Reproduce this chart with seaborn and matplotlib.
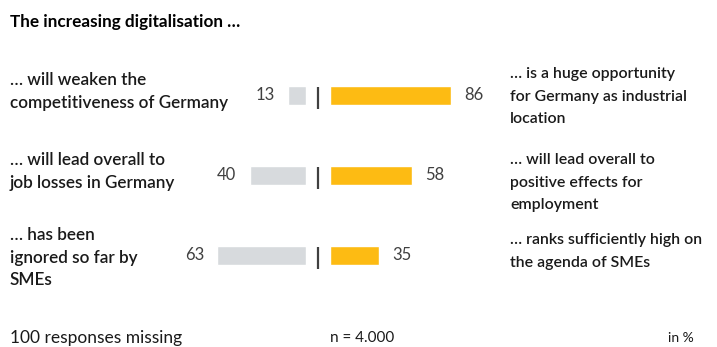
import matplotlib
matplotlib.use("Agg")
import matplotlib.pyplot as plt
import seaborn as sns
import pandas as pd

# Survey statements and shares (in %)
left_statements = [
    "… will weaken the\ncompetitiveness of Germany",
    "… will lead overall to\njob losses in Germany",
    "… has been\nignored so far by\nSMEs",
]
right_statements = [
    "… is a huge opportunity\nfor Germany as industrial\nlocation",
    "… will lead overall to\npositive effects for\nemployment",
    "… ranks sufficiently high on\nthe agenda of SMEs",
]
left_values = [13, 40, 63]
right_values = [86, 58, 35]
title = "The increasing digitalisation …"
footer_left = "100 responses missing"
footer_mid = "n = 4.000"
footer_right = "in %"

GREY = "#D7DADD"
YELLOW = "#FDBB13"
DARK = "#404040"

sns.set_theme(style="white")
plt.rcParams["font.family"] = ["Lato", "DejaVu Sans"]

W, H = 717, 347
fig = plt.figure(figsize=(W / 100, H / 100), dpi=100)

df = pd.DataFrame({
    "row": ["r1", "r2", "r3"],
    "left": left_values,
    "right": right_values,
})

px = 1.41  # pixels per percentage point
ax_w = 100 * px
top, bottom = 55, 295


def fig_rect(x0, width):
    return [x0 / W, (H - bottom) / H, width / W, (bottom - top) / H]


bar_h = 19 / 80

# Left (grey) bars growing leftwards from the centre divider
axl = fig.add_axes(fig_rect(306 - ax_w, ax_w))
sns.barplot(data=df, x="left", y="row", orient="h", color=GREY,
            width=bar_h, saturation=1, ax=axl)
axl.set_xlim(100, 0)

# Right (yellow) bars growing rightwards
axr = fig.add_axes(fig_rect(330, ax_w))
sns.barplot(data=df, x="right", y="row", orient="h", color=YELLOW,
            width=bar_h, saturation=1, ax=axr)
axr.set_xlim(0, 100)

for ax in (axl, axr):
    ax.set_axis_off()
    ax.set_ylim(2.5, -0.5)

for i, (lv, rv) in enumerate(zip(left_values, right_values)):
    axl.annotate(str(lv), (lv, i), xytext=(-9.5, 0), textcoords="offset points",
                 ha="right", va="center", fontsize=12, color=DARK)
    axr.annotate(str(rv), (rv, i), xytext=(9.5, 0), textcoords="offset points",
                 ha="left", va="center", fontsize=12, color=DARK)

# Overlay in pixel coordinates for texts and divider marks
ov = fig.add_axes([0, 0, 1, 1])
ov.set_xlim(0, W)
ov.set_ylim(H, 0)
ov.set_axis_off()
ov.patch.set_alpha(0)

row_centers = [95, 175, 255]
for yc in row_centers:
    ov.plot([318, 318], [yc - 8, yc + 14], color=DARK, lw=1.6,
            solid_capstyle="butt")

line_h = 22.5
left_tops = [80, 160, 235]
right_tops = [74, 160, 240]
for tops, texts, x, fs in ((left_tops, left_statements, 10, 12.3),
                           (right_tops, right_statements, 510, 11.4)):
    for y0, txt in zip(tops, texts):
        for k, line in enumerate(txt.split("\n")):
            ov.text(x, y0 + k * line_h, line, ha="left", va="center",
                    fontsize=fs, color="#1a1a1a", fontweight="semibold")

ov.text(10, 22, title, ha="left", va="center", fontsize=12.3,
        fontweight="bold", color="#000000")
ov.text(10, 338, footer_left, ha="left", va="center", fontsize=12.5,
        color="#1a1a1a")
ov.text(330, 338, footer_mid, ha="left", va="center", fontsize=11,
        color="#1a1a1a")
ov.text(694, 338, footer_right, ha="right", va="center", fontsize=10,
        color="#1a1a1a")

fig.savefig("out.png", dpi=100, facecolor="white")
